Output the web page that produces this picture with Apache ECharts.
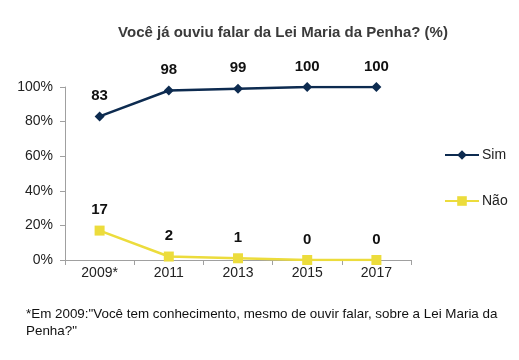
<!DOCTYPE html>
<html><head><meta charset="utf-8">
<script src="https://cdn.jsdelivr.net/npm/echarts@6/dist/echarts.min.js"></script>
<style>html,body{margin:0;padding:0;background:#fff}#c{width:519px;height:360px}</style>
</head><body><div id="c"></div>
<script>
const categories = ['2009*', '2011', '2013', '2015', '2017'];
const simValues = [83, 98, 99, 100, 100];
const naoValues = [17, 2, 1, 0, 0];
const titleText = 'Você já ouviu falar da Lei Maria da Penha? (%)';
const footnote = '*Em 2009:"Você tem conhecimento, mesmo de ouvir falar, sobre a Lei Maria da\nPenha?"';
const FONT = 'Liberation Sans, Open Sans, sans-serif';
const chart = echarts.init(document.getElementById('c'));
chart.setOption({
  backgroundColor: '#fff',
  animation: false,
  title: [{
    text: titleText, left: 278, top: 20, textAlign: 'center',
    textStyle: {fontFamily: FONT, fontSize: 15, fontWeight: 'bold', color: '#3a3a3a'}
  }, {
    text: footnote, left: 21, top: 301,
    textStyle: {fontFamily: FONT, fontSize: 13.4, fontWeight: 'normal', color: '#111', lineHeight: 17}
  }],
  grid: {left: 65, right: 108, top: 87, bottom: 100},
  legend: {
    orient: 'vertical', left: 439, top: 143, itemGap: 32, itemWidth: 34, itemHeight: 12,
    textStyle: {fontFamily: FONT, fontSize: 14, color: '#222', padding: [0, 0, 0, -2]},
    data: ['Sim', 'Não']
  },
  xAxis: {
    type: 'category', data: categories, boundaryGap: true,
    axisLine: {lineStyle: {color: '#a0a0a0'}},
    axisTick: {show: true, length: 5, lineStyle: {color: '#a0a0a0'}},
    axisLabel: {fontFamily: FONT, fontSize: 14, color: '#222', margin: 6}
  },
  yAxis: {
    type: 'value', min: 0, max: 100, interval: 20,
    splitLine: {show: false},
    axisLine: {show: true, lineStyle: {color: '#a0a0a0'}},
    axisTick: {show: true, length: 5, lineStyle: {color: '#a0a0a0'}},
    axisLabel: {fontFamily: FONT, fontSize: 14, color: '#222', margin: 12, formatter: '{value}%'}
  },
  series: [{
    name: 'Sim', type: 'line', data: simValues,
    symbol: 'diamond', symbolSize: 10,
    lineStyle: {color: '#0d2b50', width: 2.5},
    itemStyle: {color: '#0d2b50'},
    label: {show: true, position: 'top', distance: 8, fontFamily: FONT, fontSize: 15, fontWeight: 'bold', color: '#111'}
  }, {
    name: 'Não', type: 'line', data: naoValues,
    symbol: 'rect', symbolSize: 10,
    lineStyle: {color: '#ecdc3c', width: 2.5},
    itemStyle: {color: '#ecdc3c'},
    label: {show: true, position: 'top', distance: 8, fontFamily: FONT, fontSize: 15, fontWeight: 'bold', color: '#111'}
  }]
});
</script></body></html>
